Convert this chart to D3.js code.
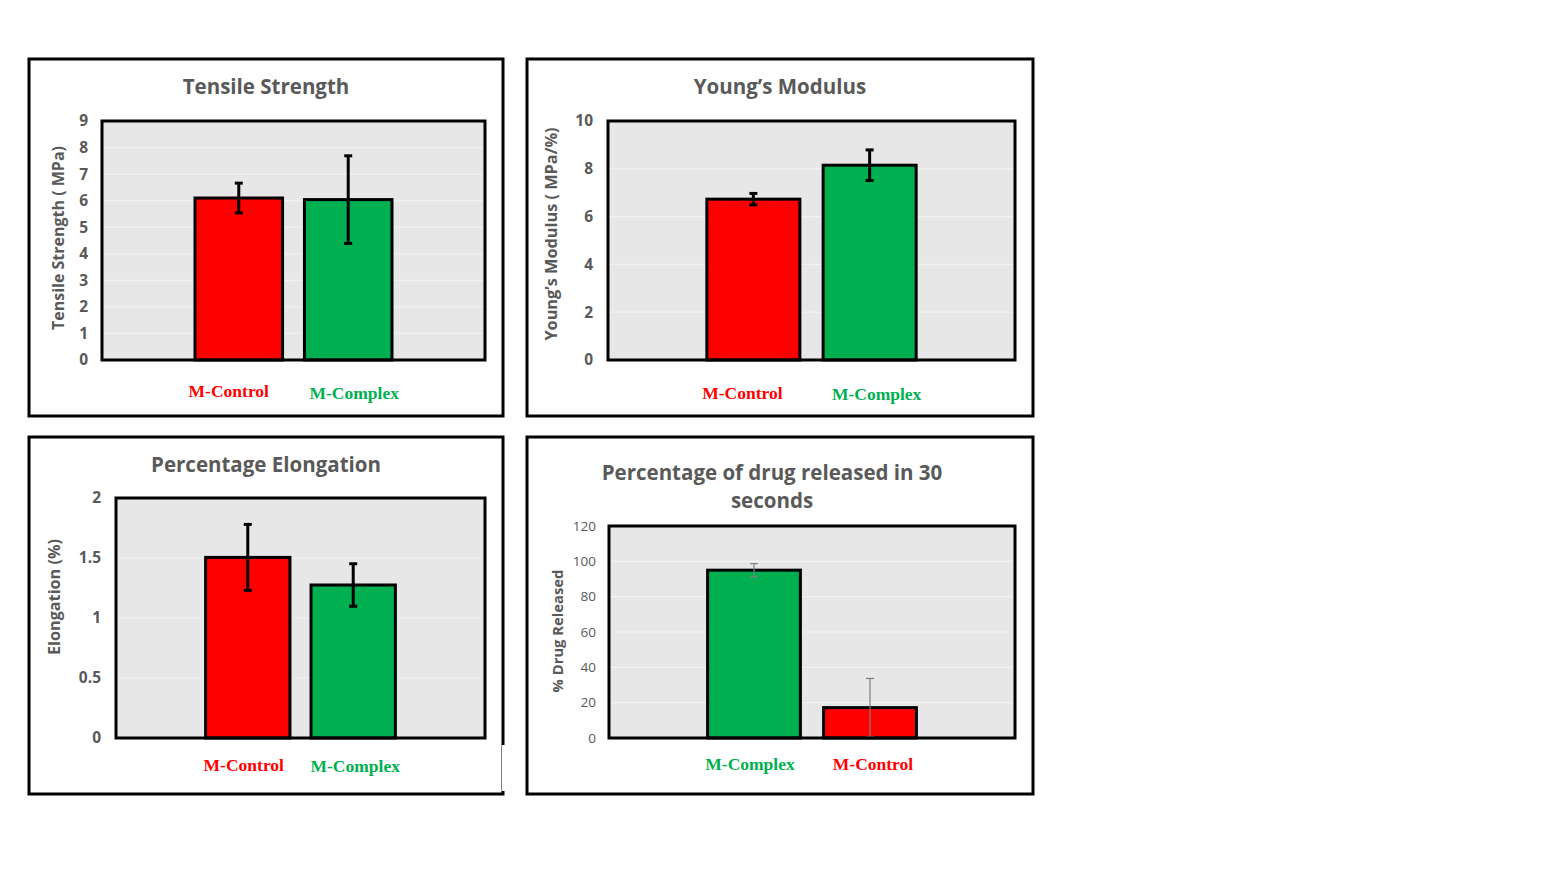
<!DOCTYPE html>
<html>
<head>
<meta charset="utf-8">
<script src="https://cdn.jsdelivr.net/npm/d3@7"></script>
<style>
  html, body { margin: 0; padding: 0; background: #ffffff; }
  svg { display: block; }
</style>
</head>
<body>
<svg id="chart" width="1560" height="877"></svg>
<script>
// ---------------- DATA ----------------
const tensileCategories = ["M-Control", "M-Complex"];
const tensileValues = [6.1, 6.04];
const tensileErrors = [0.56, 1.65];
const tensileTicks = [0, 1, 2, 3, 4, 5, 6, 7, 8, 9];

const youngCategories = ["M-Control", "M-Complex"];
const youngValues = [6.73, 8.15];
const youngErrors = [0.24, 0.64];
const youngTicks = [0, 2, 4, 6, 8, 10];

const elongCategories = ["M-Control", "M-Complex"];
const elongValues = [1.505, 1.275];
const elongErrors = [0.275, 0.177];
const elongTicks = [0, 0.5, 1, 1.5, 2];

const drugCategories = ["M-Complex", "M-Control"];
const drugValues = [95.0, 17.2];
const drugErrors = [3.7, 16.5];
const drugTicks = [0, 20, 40, 60, 80, 100, 120];

const categoryColors = { "M-Control": "#ff0000", "M-Complex": "#00b050" };

// ---------------- LAYOUT ----------------
const svg = d3.select("#chart");
const titleFont = "'Open Sans', 'DejaVu Sans', sans-serif";
const labelFont = "'Liberation Serif', 'Times New Roman', serif";
const grey = "#595959";

const panels = [
  {
    box: [29, 59, 474, 357],
    plot: { left: 102, right: 485, top: 121, bottom: 360 },
    title: ["Tensile Strength"], titleX: 266, titleY: 94,
    yTitle: "Tensile Strength ( MPa)", yTitleX: 64, yTitleY: 238,
    tickX: 88, tickFont: 15.5, tickWeight: "bold", yTitleSize: 16,
    cats: tensileCategories, vals: tensileValues, errs: tensileErrors, ticks: tensileTicks,
    labelY: 397, labelDx: [-10, 6], labelDy: [0, 2],
    errStyle: { color: "#000", width: 3, cap: 4 }
  },
  {
    box: [527, 59, 506, 357],
    plot: { left: 608, right: 1015, top: 121, bottom: 360 },
    title: ["Young\u2019s Modulus"], titleX: 780, titleY: 94,
    yTitle: "Young\u2019s Modulus ( MPa/%)", yTitleX: 557, yTitleY: 234,
    tickX: 593, tickFont: 15.5, tickWeight: "bold", yTitleSize: 16.3,
    cats: youngCategories, vals: youngValues, errs: youngErrors, ticks: youngTicks,
    labelY: 399, labelDx: [-11, 7], labelDy: [0, 1],
    errStyle: { color: "#000", width: 3, cap: 4 }
  },
  {
    box: [29, 437, 474, 357],
    plot: { left: 116, right: 485, top: 498, bottom: 738 },
    title: ["Percentage Elongation"], titleX: 266, titleY: 472,
    yTitle: "Elongation (%)", yTitleX: 60, yTitleY: 597,
    tickX: 101, tickFont: 15.5, tickWeight: "bold", yTitleSize: 16.2,
    cats: elongCategories, vals: elongValues, errs: elongErrors, ticks: elongTicks,
    labelY: 771, labelDx: [-4, 2], labelDy: [0, 1],
    errStyle: { color: "#000", width: 3, cap: 4 }
  },
  {
    box: [527, 437, 506, 357],
    plot: { left: 609, right: 1015, top: 526, bottom: 738 },
    title: ["Percentage of drug released in 30", "seconds"], titleX: 772, titleY: 480, titleLH: 28,
    yTitle: "% Drug Released", yTitleX: 563, yTitleY: 631,
    tickX: 596, tickFont: 13.5, tickWeight: "normal", yTitleSize: 14.8,
    cats: drugCategories, vals: drugValues, errs: drugErrors, ticks: drugTicks,
    labelY: 770, labelDx: [-4, 3], labelDy: [0, 0],
    errStyle: { color: "#808080", width: 1.2, cap: 4 }
  }
];

panels.forEach(drawPanel);

// small gap in the right border of the elongation panel
svg.append("rect").attr("x", 502).attr("y", 745).attr("width", 3).attr("height", 46).attr("fill", "#fff");

function drawPanel(p) {
  const g = svg.append("g");
  // outer frame
  g.append("rect")
    .attr("x", p.box[0]).attr("y", p.box[1])
    .attr("width", p.box[2]).attr("height", p.box[3])
    .attr("fill", "#fff").attr("stroke", "#000").attr("stroke-width", 3);

  const x = d3.scaleBand().domain(p.cats)
    .range([p.plot.left, p.plot.right])
    .paddingInner(0.2).paddingOuter(0.85);
  const y = d3.scaleLinear()
    .domain([0, d3.max(p.ticks)])
    .range([p.plot.bottom, p.plot.top]);

  // plot background
  g.append("rect")
    .attr("x", p.plot.left).attr("y", p.plot.top)
    .attr("width", p.plot.right - p.plot.left)
    .attr("height", p.plot.bottom - p.plot.top)
    .attr("fill", "#e7e7e7");

  // gridlines
  g.append("g").selectAll("line").data(p.ticks.slice(1, -1)).join("line")
    .attr("x1", p.plot.left).attr("x2", p.plot.right)
    .attr("y1", d => y(d)).attr("y2", d => y(d))
    .attr("stroke", "#f2f2f2").attr("stroke-width", 1.2);

  // bars
  g.append("g").selectAll("rect").data(p.cats).join("rect")
    .attr("x", d => x(d)).attr("width", x.bandwidth())
    .attr("y", (d, i) => y(p.vals[i]))
    .attr("height", (d, i) => y(0) - y(p.vals[i]))
    .attr("fill", d => categoryColors[d])
    .attr("stroke", "#000").attr("stroke-width", 3);

  // error bars
  const eg = g.append("g").attr("stroke", p.errStyle.color).attr("stroke-width", p.errStyle.width);
  p.cats.forEach((c, i) => {
    const cx = x(c) + x.bandwidth() / 2;
    const hi = y(p.vals[i] + p.errs[i]);
    const lo = y(Math.max(0, p.vals[i] - p.errs[i]));
    eg.append("line").attr("x1", cx).attr("x2", cx).attr("y1", hi).attr("y2", lo);
    eg.append("line").attr("x1", cx - p.errStyle.cap).attr("x2", cx + p.errStyle.cap).attr("y1", hi).attr("y2", hi);
    eg.append("line").attr("x1", cx - p.errStyle.cap).attr("x2", cx + p.errStyle.cap).attr("y1", lo).attr("y2", lo);
  });

  // plot border
  g.append("rect")
    .attr("x", p.plot.left).attr("y", p.plot.top)
    .attr("width", p.plot.right - p.plot.left)
    .attr("height", p.plot.bottom - p.plot.top)
    .attr("fill", "none").attr("stroke", "#000").attr("stroke-width", 3);

  // y axis (labels only)
  const axis = d3.axisLeft(y).tickValues(p.ticks).tickSize(0).tickPadding(0)
    .tickFormat(d3.format("~g"));
  const ag = g.append("g").attr("transform", `translate(${p.tickX},0)`).call(axis);
  ag.select(".domain").remove();
  ag.selectAll("text")
    .attr("fill", grey)
    .style("font-family", titleFont)
    .style("font-size", p.tickFont + "px")
    .style("font-weight", p.tickWeight);

  // y axis title
  g.append("text")
    .attr("transform", `translate(${p.yTitleX},${p.yTitleY}) rotate(-90)`)
    .attr("text-anchor", "middle")
    .attr("fill", grey)
    .style("font-family", titleFont)
    .style("font-size", p.yTitleSize + "px")
    .style("font-weight", "bold")
    .text(p.yTitle);

  // title
  p.title.forEach((t, i) => {
    g.append("text")
      .attr("x", p.titleX).attr("y", p.titleY + i * (p.titleLH || 0))
      .attr("text-anchor", "middle")
      .attr("fill", grey)
      .style("font-family", titleFont)
      .style("font-size", "20.5px")
      .style("font-weight", "bold")
      .text(t);
  });

  // category labels
  g.append("g").selectAll("text").data(p.cats).join("text")
    .attr("x", (d, i) => x(d) + x.bandwidth() / 2 + p.labelDx[i])
    .attr("y", (d, i) => p.labelY + p.labelDy[i])
    .attr("text-anchor", "middle")
    .attr("fill", d => categoryColors[d])
    .style("font-family", labelFont)
    .style("font-size", "17.5px")
    .style("font-weight", "bold")
    .text(d => d);
}
</script>
</body>
</html>
